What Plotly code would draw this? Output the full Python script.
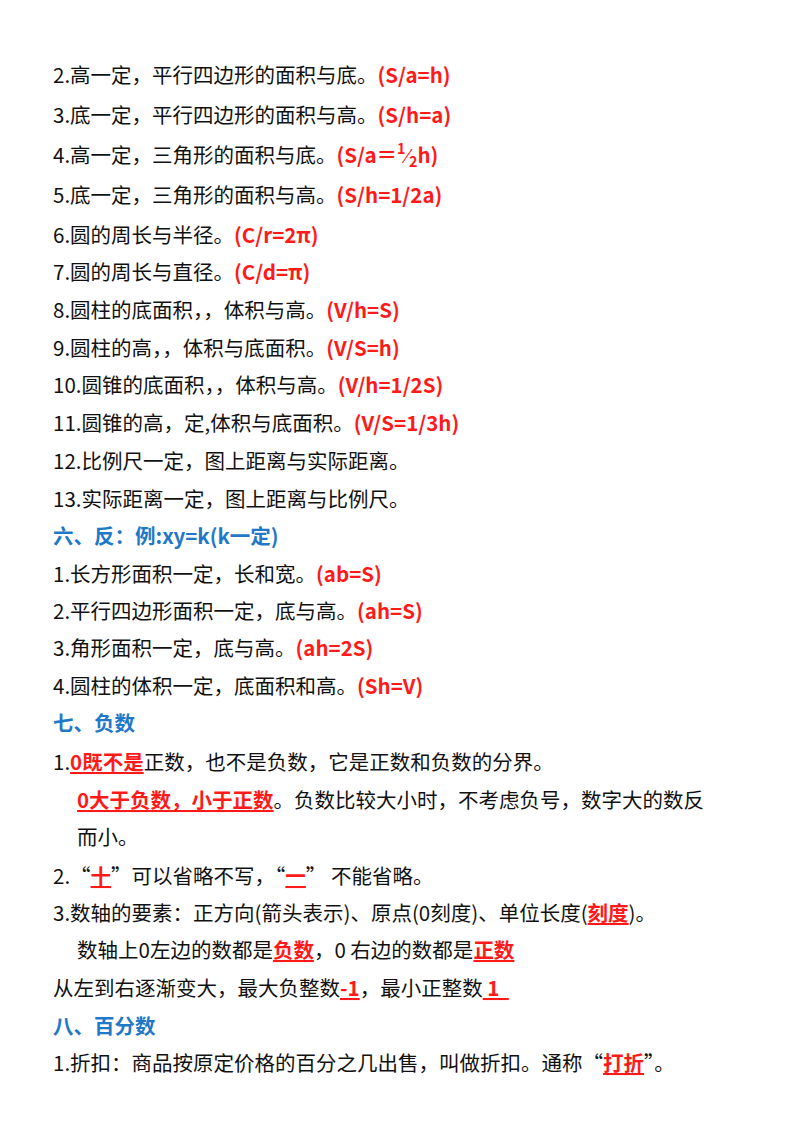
import plotly.graph_objects as go

# each line: list of (text, style) ; style: k=black, r=red bold, ru=red bold underline, b=blue heading
line_y = [75, 115, 155, 195, 235, 272, 310, 348, 385, 423, 461, 499, 536,
          574, 611, 648, 686, 723, 762, 800, 837, 876, 913, 950, 988, 1026, 1063]
line_x = [52] * 19 + [76, 76, 52, 52, 76, 52, 52, 52]
lines = [
    [("2.高一定，平行四边形的面积与底。", "k"), ("(S/a=h)", "r")],
    [("3.底一定，平行四边形的面积与高。", "k"), ("(S/h=a)", "r")],
    [("4.高一定，三角形的面积与底。", "k"), ("(S/a＝<sup>1</sup>⁄<sub>2</sub>h)", "r")],
    [("5.底一定，三角形的面积与高。", "k"), ("(S/h=1/2a)", "r")],
    [("6.圆的周长与半径。", "k"), ("(C/r=2π)", "r")],
    [("7.圆的周长与直径。", "k"), ("(C/d=π)", "r")],
    [("8.圆柱的底面积，，体积与高。", "k"), ("(V/h=S)", "r")],
    [("9.圆柱的高，，体积与底面积。", "k"), ("(V/S=h)", "r")],
    [("10.圆锥的底面积，，体积与高。", "k"), ("(V/h=1/2S)", "r")],
    [("11.圆锥的高，定,体积与底面积。", "k"), ("(V/S=1/3h)", "r")],
    [("12.比例尺一定，图上距离与实际距离。", "k")],
    [("13.实际距离一定，图上距离与比例尺。", "k")],
    [("六、反：例:xy=k(k一定)", "b")],
    [("1.长方形面积一定，长和宽。", "k"), ("(ab=S)", "r")],
    [("2.平行四边形面积一定，底与高。", "k"), ("(ah=S)", "r")],
    [("3.角形面积一定，底与高。", "k"), ("(ah=2S)", "r")],
    [("4.圆柱的体积一定，底面积和高。", "k"), ("(Sh=V)", "r")],
    [("七、负数", "b")],
    [("1.", "k"), ("0既不是", "ru"), ("正数，也不是负数，它是正数和负数的分界。", "k")],
    [("0大于负数，小于正数", "ru"), ("。负数比较大小时，不考虑负号，数字大的数反", "k")],
    [("而小。", "k")],
    [("2.“", "k"), ("十", "ru"), ("”可以省略不写，“", "k"), ("一", "ru"), ("” 不能省略。", "k")],
    [("3.数轴的要素：正方向(箭头表示)、原点(0刻度)、单位长度(", "k"), ("刻度", "ru"), (")。", "k")],
    [("数轴上0左边的数都是", "k"), ("负数", "ru"), ("，0 右边的数都是", "k"), ("正数", "ru")],
    [("从左到右逐渐变大，最大负整数", "k"), ("-1", "ru"), ("，最小正整数", "k"), ("\u00a01\u00a0\u00a0", "ru")],
    [("八、百分数", "b")],
    [("1.折扣：商品按原定价格的百分之几出售，叫做折扣。通称“", "k"), ("打折", "ru"), ("”。", "k")],
]

styles = {
    "k": "<span style='color:#111111'>{}</span>",
    "r": "<span style='color:#FF1A1A'><b>{}</b></span>",
    "ru": "<span style='color:#FF1A1A;text-decoration:underline'><b>{}</b></span>",
    "b": "<span style='color:#1F78C8'><b>{}</b></span>",
}

fig = go.Figure()
fig.add_trace(go.Scatter(x=[0, 800], y=[0, 1132], mode="markers",
                         marker=dict(opacity=0), hoverinfo="skip", showlegend=False))
for x, y, segs in zip(line_x, line_y, lines):
    txt = "".join(styles[s].format(t) for t, s in segs)
    fig.add_annotation(x=x - 8, y=y - 9, text=txt, showarrow=False, xanchor="left",
                       yanchor="middle", borderpad=0,
                       font=dict(size=20.5, family="Noto Sans CJK SC"))

fig.update_layout(
    width=800, height=1132, margin=dict(l=0, r=0, t=0, b=0),
    paper_bgcolor="white", plot_bgcolor="white",
    xaxis=dict(range=[0, 800], visible=False, fixedrange=True),
    yaxis=dict(range=[1132, 0], visible=False, fixedrange=True),
)
fig.write_html("out.html")
